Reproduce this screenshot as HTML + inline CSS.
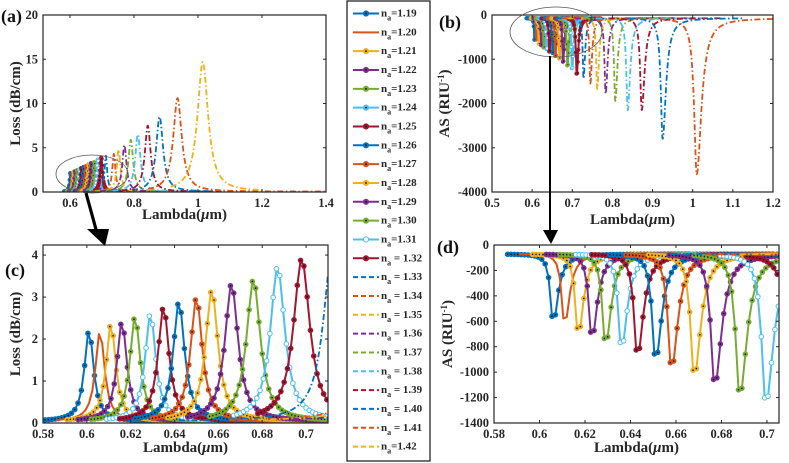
<!DOCTYPE html>
<html><head><meta charset="utf-8">
<style>
html,body{margin:0;padding:0;background:#fff;width:789px;height:463px;overflow:hidden;}
svg{display:block;font-family:"Liberation Serif",serif;}
</style></head>
<body>
<svg id="fig" width="789" height="463" viewBox="0 0 789 463" xmlns="http://www.w3.org/2000/svg" overflow="hidden"></svg>
<script>
const naLabels = ["1.19","1.20","1.21","1.22","1.23","1.24","1.25","1.26","1.27","1.28","1.29","1.30","1.31","1.32","1.33","1.34","1.35","1.36","1.37","1.38","1.39","1.40","1.41","1.42"];
const lossPeakLambda = [0.601,0.606,0.611,0.616,0.622,0.629,0.635,0.642,0.650,0.657,0.666,0.676,0.687,0.698,0.712,0.737,0.752,0.770,0.790,0.812,0.843,0.880,0.936,1.015];
const lossPeakValue = [2.22,2.2,2.38,2.43,2.55,2.62,2.78,2.9,3.0,3.18,3.33,3.43,3.73,3.92,4.1,4.3,4.8,5.3,5.9,6.5,7.5,8.5,10.6,14.7];
const lossHalfWidth = [0.0025,0.0025,0.0026,0.0027,0.0028,0.0029,0.003,0.0031,0.0032,0.0034,0.0036,0.0038,0.004,0.0045,0.005,0.006,0.007,0.008,0.009,0.010,0.011,0.013,0.016,0.02];
const asDipLambda = [0.606,0.611,0.617,0.623,0.629,0.636,0.643,0.651,0.658,0.668,0.677,0.688,0.6995,0.711,0.728,0.745,0.762,0.783,0.807,0.838,0.873,0.925,1.01,1.3];
const asDipValue = [-620,-640,-720,-750,-800,-830,-890,-920,-990,-1050,-1120,-1200,-1260,-1380,-1450,-1550,-1680,-1780,-1950,-2150,-2150,-2800,-3600,-5000];
const asHalfWidth = [0.0026,0.0026,0.0027,0.0028,0.0029,0.003,0.0031,0.0032,0.0033,0.0034,0.0036,0.0038,0.004,0.0044,0.0045,0.005,0.0055,0.006,0.0065,0.0075,0.0085,0.01,0.014,0.03];
const lossTicksX_a = [0.6,0.8,1,1.2,1.4];
const lossTicksY_a = [0,5,10,15,20];
const asTicksX_b = [0.5,0.6,0.7,0.8,0.9,1,1.1,1.2];
const asTicksY_b = [0,-1000,-2000,-3000,-4000];
const zoomTicksX = [0.58,0.6,0.62,0.64,0.66,0.68,0.7];
const lossTicksY_c = [0,1,2,3,4];
const asTicksY_d = [0,-200,-400,-600,-800,-1000,-1200,-1400];

const colors = ["#0072BD","#D95319","#EDB120","#7E2F8E","#77AC30","#4DBEEE","#A2142F"];
const NS = "http://www.w3.org/2000/svg";
const svg = document.getElementById('fig');
function el(tag, attrs, parent){
  const e = document.createElementNS(NS, tag);
  for (const k in attrs) e.setAttribute(k, attrs[k]);
  (parent||svg).appendChild(e);
  return e;
}
function fmt(v){ return String(v); }

function makePanel(key, px0, px1, py0, py1, xd, yd, xticks, yticks, ylabel, xlabelY, ylabelX, tag, tagX, tagY){
  const g = el('g', {});
  
  
  const sx = v => px0 + (v - xd[0]) / (xd[1] - xd[0]) * (px1 - px0);
  const sy = v => py1 - (v - yd[0]) / (yd[1] - yd[0]) * (py1 - py0);
  const cp = el('clipPath', {id: 'clip-' + key}, g);
  el('rect', {x: px0, y: py0, width: px1 - px0, height: py1 - py0}, cp);
  const plot = el('g', {'clip-path': 'url(#clip-' + key + ')'}, g);
  
  
  xticks.forEach(t => {
    const x = sx(t);
    el('line', {x1: x, x2: x, y1: py1, y2: py1 - 3, stroke: '#262626', 'stroke-width': 1}, g);
    el('line', {x1: x, x2: x, y1: py0, y2: py0 + 3, stroke: '#262626', 'stroke-width': 1}, g);
    const tx = el('text', {x: x, y: py1 + 15, 'text-anchor': 'middle', 'font-size': 12.5, 'font-weight': 'bold', fill: '#262626'}, g);
    tx.textContent = fmt(t);
    
    
  });
  yticks.forEach(t => {
    const y = sy(t);
    el('line', {x1: px0, x2: px0 + 3, y1: y, y2: y, stroke: '#262626', 'stroke-width': 1}, g);
    el('line', {x1: px1, x2: px1 - 3, y1: y, y2: y, stroke: '#262626', 'stroke-width': 1}, g);
    const ty = el('text', {x: px0 - 5, y: y + 4, 'text-anchor': 'end', 'font-size': 12.5, 'font-weight': 'bold', fill: '#262626'}, g);
    ty.textContent = fmt(t);
    
    
  });
  const frame = el('rect', {x: px0, y: py0, width: px1 - px0, height: py1 - py0, fill: 'none', stroke: '#262626', 'stroke-width': 1.2}, g);
  
  
  const xl = el('text', {x: (px0 + px1) / 2, y: xlabelY, 'text-anchor': 'middle', 'font-size': 15, 'font-weight': 'bold', fill: '#262626'}, g);
  xl.innerHTML = 'Lambda(<tspan font-style="italic">μ</tspan>m)';
  
  
  const cy = (py0 + py1) / 2;
  const yl = el('text', {x: ylabelX, y: cy, 'text-anchor': 'middle', 'font-size': 15, 'font-weight': 'bold', fill: '#262626', transform: 'rotate(-90 ' + ylabelX + ' ' + cy + ')'}, g);
  yl.innerHTML = ylabel;
  
  
  const tg = el('text', {x: tagX, y: tagY, 'font-size': 18, 'font-weight': 'bold', fill: '#111'}, g);
  tg.textContent = tag;
  
  
  return {sx, sy, plot, xd, yd};
}

function lossVal(i, l){
  const d = (l - lossPeakLambda[i]) / lossHalfWidth[i];
  return 0.04 + (lossPeakValue[i] - 0.04) / (1 + d * d);
}
function asVal(i, l){
  const dx = l - asDipLambda[i];
  const w = dx < 0 ? asHalfWidth[i] * 0.55 : asHalfWidth[i];
  const d = dx / w;
  const base = -70;
  return base + (asDipValue[i] - base) / (1 + d * d);
}

function drawSeries(P, fn, centers, key, mr){
  const span = P.yd[1] - P.yd[0];
  const yLo = P.yd[0] - 0.05 * span, yHi = P.yd[1] + 0.05 * span;
  for (let i = 0; i < naLabels.length; i++){
    const solid = i < 14;
    const c = colors[i % 7];
    const c0 = centers[i];
    let a, b, step;
    if (solid){ a = c0 - 0.02; b = c0 + 0.06; step = 0.0015; }
    else { a = c0 - 0.06 - 2*lossHalfWidth[i]; b = c0 + (i === 22 ? 0.5 : (i === 23 ? 0.19 : 0.2)); step = 0.0008; }
    a = Math.max(a, P.xd[0]);
    b = Math.min(b, P.xd[1]);
    if (b <= a) continue;
    const pts = [];
    for (let l = a; l <= b + 1e-9; l += step) pts.push([l, Math.min(yHi, Math.max(yLo, fn(i, l)))]);
    if (pts.length < 2) continue;
    const d = pts.map((p, k) => (k ? 'L' : 'M') + P.sx(p[0]).toFixed(2) + ' ' + P.sy(p[1]).toFixed(2)).join(' ');
    const path = el('path', {d: d, fill: 'none', stroke: c, 'stroke-width': solid ? 2 : 1.8, 'stroke-dasharray': solid ? 'none' : '6 2.5 1.5 2.5', 'stroke-linejoin': 'round'}, P.plot);
    
    
    if (solid && i !== 1){
      const open = (i === 5 || i === 12);
      pts.forEach(p => {
        const m = el('circle', {cx: P.sx(p[0]), cy: P.sy(p[1]), r: mr, fill: open ? '#fff' : c, stroke: c, 'stroke-width': 1}, P.plot);
        
        
        if (!open) el('circle', {cx: P.sx(p[0]), cy: P.sy(p[1]), r: mr * 0.35, fill: '#111'}, P.plot);
      });
    }
  }
}

const A = makePanel('a', 43, 326, 15, 192, [0.5156, 1.4], [0, 20], lossTicksX_a, lossTicksY_a, 'Loss (dB/cm)', 219, 20, '(a)', 1, 22);
drawSeries(A, lossVal, lossPeakLambda, 'a', 1.6);
const B = makePanel('b', 492, 773, 15, 192, [0.5, 1.2], [-4000, 0], asTicksX_b, asTicksY_b, 'AS (RIU<tspan dy="-5" font-size="9">-1</tspan><tspan dy="5">)</tspan>', 224, 449, '(b)', 439, 28);
drawSeries(B, asVal, asDipLambda, 'b', 1.6);
const C = makePanel('c', 43, 328, 245, 423, [0.58, 0.71], [0, 4.24], zoomTicksX, lossTicksY_c, 'Loss (dB/cm)', 452, 20, '(c)', 5, 276);
drawSeries(C, lossVal, lossPeakLambda, 'c', 2.3);
const D = makePanel('d', 494, 779, 245, 423, [0.58, 0.7053], [-1400, 0], zoomTicksX, asTicksY_d, 'AS (RIU<tspan dy="-5" font-size="9">-1</tspan><tspan dy="5">)</tspan>', 452, 452, '(d)', 437, 253);
drawSeries(D, asVal, asDipLambda, 'd', 2.3);

const e1 = el('ellipse', {cx: 92, cy: 174, rx: 36, ry: 19, fill: 'none', stroke: '#555', 'stroke-width': 0.8});


const e2 = el('ellipse', {cx: 556, cy: 32, rx: 46, ry: 25, fill: 'none', stroke: '#555', 'stroke-width': 0.8});


const a1 = el('g', {});


el('line', {x1: 86, y1: 193, x2: 97, y2: 233, stroke: '#000', 'stroke-width': 3.2}, a1);
el('polygon', {points: '87,229 109,229 105,246', fill: '#000'}, a1);
const a2 = el('g', {});


el('line', {x1: 550, y1: 56, x2: 550, y2: 234, stroke: '#000', 'stroke-width': 2}, a2);
el('polygon', {points: '543,230 558,230 551,244', fill: '#000'}, a2);

const lg = el('g', {});


el('rect', {x: 347, y: 1, width: 83, height: 460, fill: '#fff', stroke: '#262626', 'stroke-width': 1.3}, lg);
for (let i = 0; i < naLabels.length; i++){
  const y = 13.5 + i * 18.83;
  const solid = i < 14;
  const c = colors[i % 7];
  const en = el('g', {}, lg);
  
  
  el('line', {x1: 353, x2: 379, y1: y, y2: y, stroke: c, 'stroke-width': 2, 'stroke-dasharray': solid ? 'none' : '5 3'}, en);
  if (solid && i !== 1){
    const open = (i === 12);
    el('circle', {cx: 366, cy: y, r: 2.6, fill: open ? '#fff' : c, stroke: c, 'stroke-width': 1}, en);
    if (!open) el('circle', {cx: 366, cy: y, r: 0.9, fill: '#111'}, en);
  }
  const t = el('text', {x: 381, y: y + 3, 'font-size': 11, 'font-weight': 'bold', fill: '#262626'}, en);
  const sep = (i >= 13 && i <= 22) ? ' = ' : '=';
  t.innerHTML = 'n<tspan dy="4" font-size="8">a</tspan><tspan dy="-4">' + sep + naLabels[i] + '</tspan>';
}
</script>
</body></html>
